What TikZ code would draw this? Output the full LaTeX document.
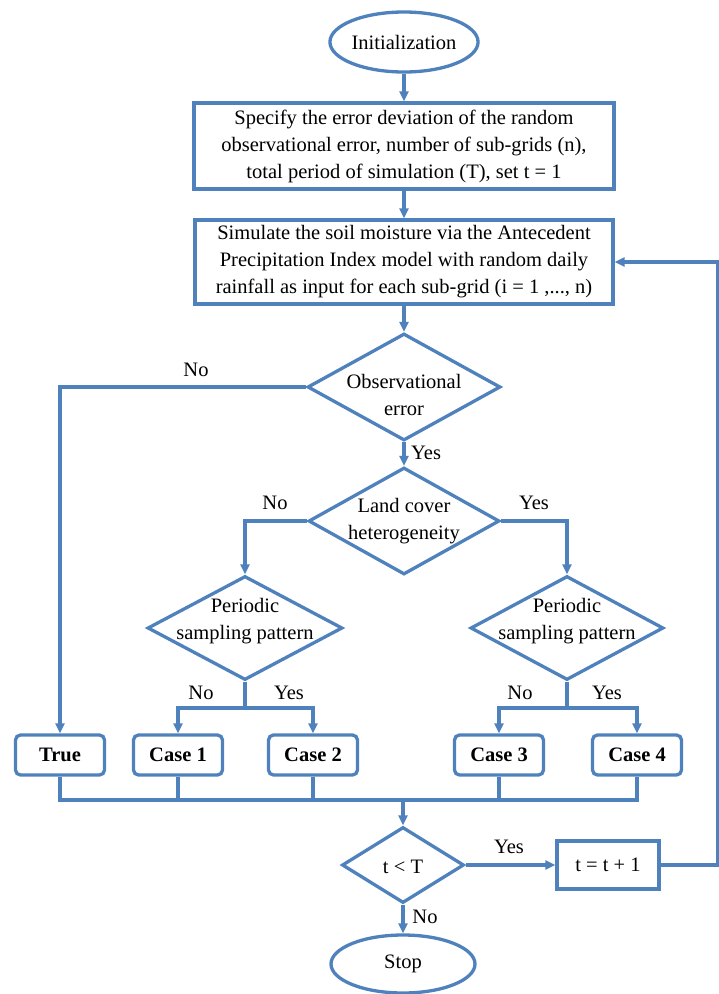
\documentclass[tikz,border=0pt]{standalone}
\usepackage{fontspec}
\setmainfont{Liberation Serif}
\usetikzlibrary{shapes.geometric,arrows.meta}
\definecolor{fc}{RGB}{79,129,189}
\begin{document}
\begin{tikzpicture}[x=1pt,y=-1pt,
  every node/.style={font=\fontsize{20.5}{27}\selectfont, inner sep=0pt},
  line/.style={draw=fc, line width=3.3pt},
  arr/.style={line, -{Triangle[length=10pt,width=9pt]}},
  oval/.style={draw=fc, line width=3.3pt, ellipse},
  pbox/.style={draw=fc, line width=3.3pt, rectangle, align=center},
  rbox/.style={draw=fc, line width=3.3pt, rectangle, rounded corners=5pt, minimum width=89, minimum height=40, font=\fontsize{20.5}{24}\selectfont\bfseries},
  dia/.style={draw=fc, line width=3.3pt, diamond},
  lab/.style={align=center},
]
\useasboundingbox (0,0) rectangle (719,994);

% nodes
\node[oval, minimum width=142, minimum height=60] (init) at (404,42) {Initialization};
\node[pbox, minimum width=420, minimum height=86] (box1) at (404,146)
  {Specify the error deviation of the random\\observational error, number of sub-grids (n),\\total period of simulation (T), set t = 1};
\node[pbox, minimum width=418, minimum height=84] (box2) at (404,262)
  {Simulate the soil moisture via the Antecedent\\Precipitation Index model with random daily\\rainfall as input for each sub-grid (i = 1 ,..., n)};

\node[dia, minimum width=193, minimum height=107] (d1) at (404,387) {};
\node[lab] (d1t) at (404,395) {Observational\\error};
\node[dia, minimum width=191, minimum height=107] (d2) at (404,521) {};
\node[lab] (d2t) at (404,521) {Land cover\\heterogeneity};
\node[dia, minimum width=195, minimum height=104] (d3) at (245,628) {};
\node[lab] (d3t) at (245,621) {Periodic\\sampling pattern};
\node[dia, minimum width=193, minimum height=104] (d4) at (567,628) {};
\node[lab] (d4t) at (567,621) {Periodic\\sampling pattern};

\node[rbox] (true) at (60,755) {True};
\node[rbox] (c1) at (178,755) {Case 1};
\node[rbox] (c2) at (313,755) {Case 2};
\node[rbox] (c3) at (499,755) {Case 3};
\node[rbox] (c4) at (637,755) {Case 4};

\node[dia, minimum width=122, minimum height=76] (tt) at (403,865) {};
\node[lab] (ttt) at (403,867) {t < T};
\node[pbox, minimum width=102, minimum height=48] (inc) at (608,865) {t = t + 1};
\node[oval, minimum width=144, minimum height=58] (stop) at (403,964) {Stop};

\coordinate (j) at (403,800);
\coordinate (j3) at (245,708);
\coordinate (j4) at (567,708);
\coordinate (rr) at (718,865);

% connectors
\draw[arr] (init.south) -- (box1.north);
\draw[arr] (box1.south) -- (box2.north);
\draw[arr] (box2.south) -- (d1.north);
\draw[arr] (d1.west) -| (true.north);
\draw[arr] (d1.south) -- (d2.north);
\draw[arr] (d2.west) -| (d3.north);
\draw[arr] (d2.east) -| (d4.north);
\draw[line] (d3.south) -- (j3);
\draw[arr] (j3) -| (c1.north);
\draw[arr] (j3) -| (c2.north);
\draw[line] (d4.south) -- (j4);
\draw[arr] (j4) -| (c3.north);
\draw[arr] (j4) -| (c4.north);
\draw[line] (true.south) |- (j) -| (c4.south);
\draw[line] (c1.south) -- (c1.south |- j);
\draw[line] (c2.south) -- (c2.south |- j);
\draw[line] (c3.south) -- (c3.south |- j);
\draw[arr] (j) -- (tt.north);
\draw[arr] (tt.east) -- (inc.west);
\draw[arr] (inc.east) -- (rr) |- (box2.east);
\draw[arr] (tt.south) -- (stop.north);

% labels
\node (l1) at (196,370) {No};
\node[anchor=west] (l2) at (411,453) {Yes};
\node (l3) at (275,503) {No};
\node (l4) at (534,503) {Yes};
\node (l5) at (201,693) {No};
\node (l6) at (289,693) {Yes};
\node (l7) at (520,693) {No};
\node (l8) at (607,693) {Yes};
\node (l9) at (509,847) {Yes};
\node (l10) at (425,917) {No};
\end{tikzpicture}
\end{document}
